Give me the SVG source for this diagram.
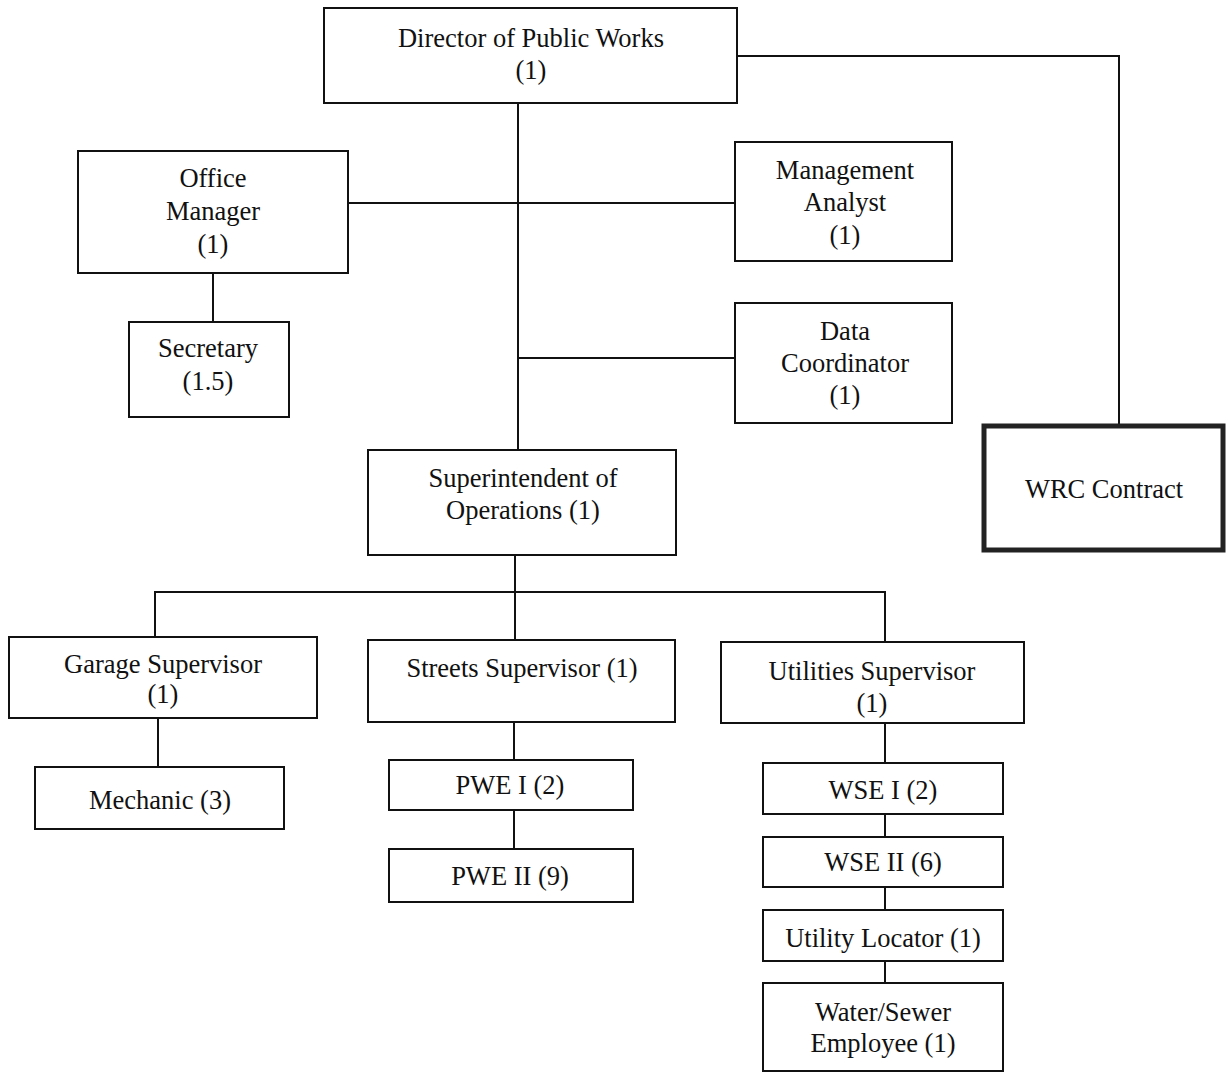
<svg xmlns="http://www.w3.org/2000/svg" width="1232" height="1074" viewBox="0 0 1232 1074">
  <style>
    .box { fill: #ffffff; stroke: #111111; stroke-width: 2; }
    .heavy { fill: #ffffff; stroke: #222222; stroke-width: 5; }
    .link { fill: none; stroke: #111111; stroke-width: 2; }
    text { font-family: "Liberation Serif", "Times New Roman", serif; font-size: 26.5px; fill: #111111; text-anchor: middle; }
  </style>
  <rect x="0" y="0" width="1232" height="1074" fill="#ffffff"/>

  <!-- reporting lines -->
  <g id="connectors">
    <polyline class="link" points="737,56 1119,56 1119,426"/>
    <line class="link" x1="518" y1="103" x2="518" y2="450"/>
    <line class="link" x1="348" y1="203" x2="735" y2="203"/>
    <line class="link" x1="518" y1="358" x2="735" y2="358"/>
    <line class="link" x1="213" y1="273" x2="213" y2="322"/>
    <line class="link" x1="515" y1="555" x2="515" y2="640"/>
    <polyline class="link" points="155,637 155,592 885,592 885,642"/>
    <line class="link" x1="158" y1="718" x2="158" y2="767"/>
    <line class="link" x1="514" y1="722" x2="514" y2="760"/>
    <line class="link" x1="514" y1="810" x2="514" y2="849"/>
    <line class="link" x1="885" y1="723" x2="885" y2="763"/>
    <line class="link" x1="885" y1="814" x2="885" y2="837"/>
    <line class="link" x1="885" y1="887" x2="885" y2="910"/>
    <line class="link" x1="885" y1="961" x2="885" y2="983"/>
  </g>

  <g id="director">
    <rect class="box" x="324" y="8" width="413" height="95"/>
    <text x="531" y="47">Director of Public Works</text>
    <text x="531" y="79">(1)</text>
  </g>

  <g id="office-manager">
    <rect class="box" x="78" y="151" width="270" height="122"/>
    <text x="213" y="187">Office</text>
    <text x="213" y="220">Manager</text>
    <text x="213" y="253">(1)</text>
  </g>

  <g id="management-analyst">
    <rect class="box" x="735" y="142" width="217" height="119"/>
    <text x="845" y="179">Management</text>
    <text x="845" y="211">Analyst</text>
    <text x="845" y="244">(1)</text>
  </g>

  <g id="secretary">
    <rect class="box" x="129" y="322" width="160" height="95"/>
    <text x="208" y="357">Secretary</text>
    <text x="208" y="390">(1.5)</text>
  </g>

  <g id="data-coordinator">
    <rect class="box" x="735" y="303" width="217" height="120"/>
    <text x="845" y="340">Data</text>
    <text x="845" y="372">Coordinator</text>
    <text x="845" y="404">(1)</text>
  </g>

  <g id="wrc-contract">
    <rect class="heavy" x="984" y="426" width="239" height="124"/>
    <text x="1104" y="498">WRC Contract</text>
  </g>

  <g id="superintendent">
    <rect class="box" x="368" y="450" width="308" height="105"/>
    <text x="523" y="487">Superintendent of</text>
    <text x="523" y="519">Operations (1)</text>
  </g>

  <g id="garage-supervisor">
    <rect class="box" x="9" y="637" width="308" height="81"/>
    <text x="163" y="673">Garage Supervisor</text>
    <text x="163" y="703">(1)</text>
  </g>

  <g id="mechanic">
    <rect class="box" x="35" y="767" width="249" height="62"/>
    <text x="160" y="809">Mechanic (3)</text>
  </g>

  <g id="streets-supervisor">
    <rect class="box" x="368" y="640" width="307" height="82"/>
    <text x="522" y="677">Streets Supervisor (1)</text>
  </g>

  <g id="pwe-1">
    <rect class="box" x="389" y="760" width="244" height="50"/>
    <text x="510" y="794">PWE I (2)</text>
  </g>

  <g id="pwe-2">
    <rect class="box" x="389" y="849" width="244" height="53"/>
    <text x="510" y="885">PWE II (9)</text>
  </g>

  <g id="utilities-supervisor">
    <rect class="box" x="721" y="642" width="303" height="81"/>
    <text x="872" y="680">Utilities Supervisor</text>
    <text x="872" y="712">(1)</text>
  </g>

  <g id="wse-1">
    <rect class="box" x="763" y="763" width="240" height="51"/>
    <text x="883" y="799">WSE I (2)</text>
  </g>

  <g id="wse-2">
    <rect class="box" x="763" y="837" width="240" height="50"/>
    <text x="883" y="871">WSE II (6)</text>
  </g>

  <g id="utility-locator">
    <rect class="box" x="763" y="910" width="240" height="51"/>
    <text x="883" y="947">Utility Locator (1)</text>
  </g>

  <g id="water-sewer-employee">
    <rect class="box" x="763" y="983" width="240" height="88"/>
    <text x="883" y="1021">Water/Sewer</text>
    <text x="883" y="1052">Employee (1)</text>
  </g>
</svg>
